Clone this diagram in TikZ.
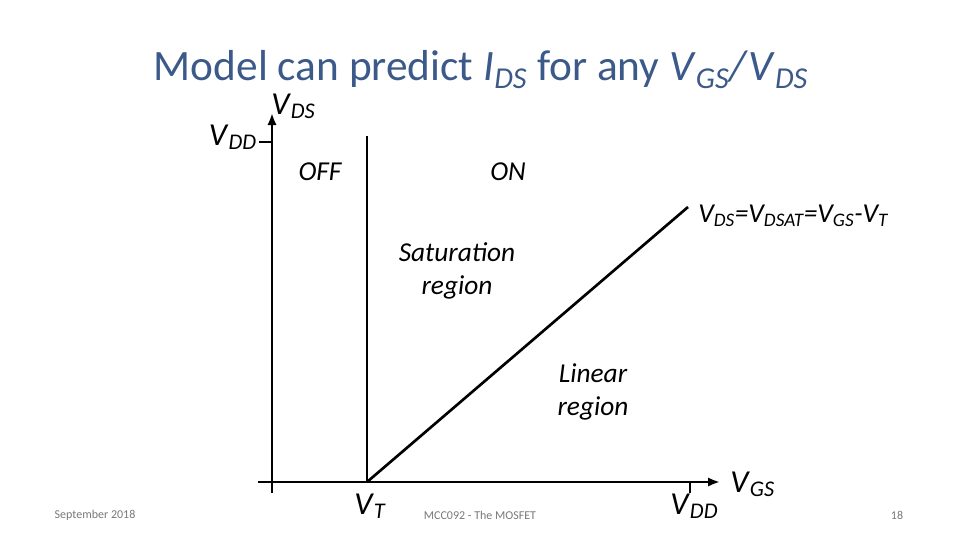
\documentclass[tikz,border=0pt]{standalone}
\usepackage{fontspec}
\setmainfont{Carlito}
\usetikzlibrary{arrows.meta}
\definecolor{titleblue}{RGB}{59,89,137}
\definecolor{footgray}{RGB}{120,120,120}
\newcommand{\vv}[2]{\textit{#1}\textsubscript{\textit{#2}}}
\begin{document}
\begin{tikzpicture}[x=0.75pt,y=-0.75pt,
  axis/.style={line width=2.2pt},
  lbl/.style={font=\fontsize{20.5}{25}\selectfont\itshape, inner sep=0pt, align=center},
  axlbl/.style={font=\fontsize{24}{28}\selectfont, inner sep=0pt},
  foot/.style={font=\fontsize{9}{11}\selectfont, text=footgray, inner sep=0pt}]
\useasboundingbox (0,0) rectangle (960,540);
% coordinates
\coordinate (o) at (272,482);
\coordinate (ytop) at (272,113);
\coordinate (ybot) at (272,493);
\coordinate (xl) at (258,482);
\coordinate (xr) at (720,482);
\coordinate (vtb) at (367,482);
\coordinate (vtt) at (367,136);
\coordinate (diag) at (688,207);
\coordinate (vddy) at (272,142);
\coordinate (vddyl) at (259,142);
\coordinate (vddx) at (690,482);
\coordinate (vddxb) at (690,493);
% title
\node[text=titleblue, font=\fontsize{32.5}{38}\selectfont, anchor=base, inner sep=0pt] (title) at (481,80)
  {\smash{Model can predict \vv{I}{DS} for any \vv{V}{GS}\textit{/}\vv{V}{DS}}};
% axes
\draw[axis, -{Latex[length=9pt,width=7pt]}] (ybot) -- (ytop);
\draw[axis, -{Latex[length=9pt,width=7pt]}] (xl) -- (xr);
\draw[axis] (vddyl) -- (vddy);
\draw[axis] (vddx) -- (vddxb);
\draw[axis] (vtb) -- (vtt);
\draw[line width=2pt] (vtb) -- (diag);
% labels
\node[axlbl, anchor=base west] (vds) at (271,114) {\vv{V}{DS}};
\node[axlbl, anchor=base east] (vdd1) at (257,145) {\vv{V}{DD}};
\node[lbl, anchor=base] (off) at (320,180) {OFF};
\node[lbl, anchor=base] (on) at (508,180) {ON};
\node[lbl, anchor=base west] (eq) at (698,222) {\vv{V}{DS}=\vv{V}{DSAT}=\vv{V}{GS}-\vv{V}{T}};
\node[lbl] (sat) at (457,271) {Saturation\\region};
\node[lbl] (lin) at (593,392) {Linear\\region};
\node[axlbl, anchor=base west] (vt) at (354,514) {\vv{V}{T}};
\node[axlbl, anchor=base west] (vdd2) at (670,514) {\vv{V}{DD}};
\node[axlbl, anchor=base west] (vgs) at (730,492) {\vv{V}{GS}};
% footer
\node[foot] (date) at (95,515) {September 2018};
\node[foot] (course) at (480,515) {MCC092 - The MOSFET};
\node[foot] (page) at (897,515) {18};
\end{tikzpicture}
\end{document}
